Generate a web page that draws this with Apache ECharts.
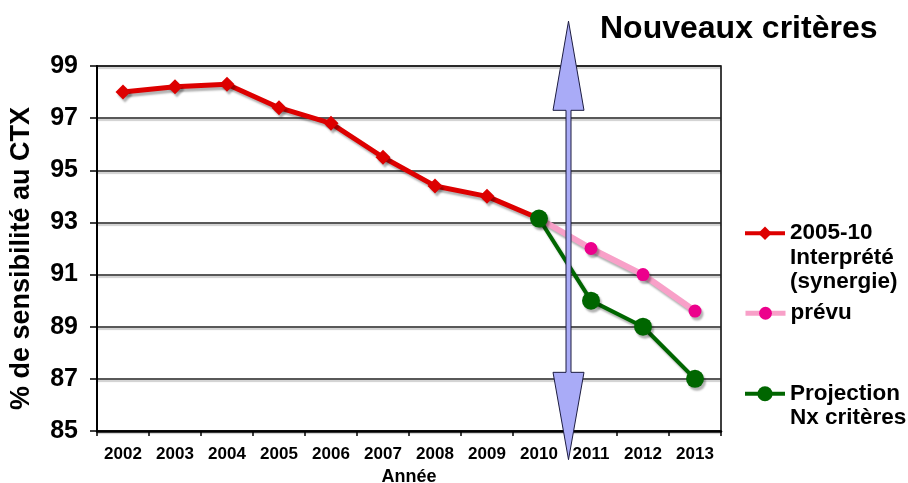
<!DOCTYPE html>
<html>
<head>
<meta charset="utf-8">
<script src="https://cdn.jsdelivr.net/npm/echarts@6/dist/echarts.min.js"></script>
<style>
  html, body { margin: 0; padding: 0; background: #fff; }
  #chart { width: 908px; height: 483px; }
</style>
</head>
<body>
<div id="chart"></div>
<script>
// data
const years = ['2002', '2003', '2004', '2005', '2006', '2007', '2008', '2009', '2010', '2011', '2012', '2013'];
const interprete = [98.0, 98.2, 98.3, 97.4, 96.8, 95.5, 94.4, 94.0, 93.15, null, null, null];
const prevu = [null, null, null, null, null, null, null, null, 93.15, 92.0, 91.0, 89.6];
const projection = [null, null, null, null, null, null, null, null, 93.15, 90.0, 89.0, 87.0];
const yTicks = [85, 87, 89, 91, 93, 95, 97, 99];

const FONT = '"Liberation Sans", Arial, sans-serif';
const names = {
  red: '2005-10',
  pink: 'prévu',
  green: 'Projection'
};
// blank lines in front keep the icon level with the first line of text
const legendText = {
  '2005-10': '\n\n2005-10\nInterprété\n(synergie)',
  'prévu': 'prévu',
  'Projection': '\nProjection\nNx critères'
};

const el = document.getElementById('chart');
const chart = echarts.init(el);

const shadow = {
  shadowColor: 'rgba(0,0,0,0.3)',
  shadowBlur: 2,
  shadowOffsetX: 2,
  shadowOffsetY: 3
};

function legendFor(name, top, lineWidth, size) {
  return {
    data: [name],
    left: 743,
    top: top,
    padding: 0,
    itemWidth: 40,
    itemHeight: size,
    selectedMode: false,
    lineStyle: { width: lineWidth },
    formatter: function (n) { return legendText[n]; },
    textStyle: {
      fontFamily: FONT,
      fontSize: 22.5,
      fontWeight: 'bold',
      color: '#000',
      lineHeight: 24.5
    }
  };
}

const option = {
  animation: false,
  textStyle: { fontFamily: FONT },
  title: {
    text: 'Nouveaux critères',
    left: 595,
    top: 8,
    textStyle: { fontFamily: FONT, fontSize: 32, fontWeight: 'bold', color: '#000' }
  },
  legend: [
    legendFor(names.red, 172, 4, 17),
    legendFor(names.pink, 301, 5, 16),
    legendFor(names.green, 357, 4, 19)
  ],
  grid: {
    left: 97,
    top: 66,
    width: 624,
    height: 365,
    outerBoundsMode: 'none',
    show: true,
    borderColor: '#000',
    borderWidth: 1.5
  },
  xAxis: {
    type: 'category',
    data: years,
    boundaryGap: true,
    name: 'Année',
    nameLocation: 'middle',
    nameGap: 36,
    nameTextStyle: { fontFamily: FONT, fontSize: 18, fontWeight: 'bold', color: '#000' },
    axisLine: { lineStyle: { color: '#000', width: 2.5 } },
    axisTick: { show: true, length: 5, lineStyle: { color: '#000', width: 1.5 } },
    axisLabel: { fontFamily: FONT, fontSize: 17, fontWeight: 'bold', color: '#000', margin: 15 }
  },
  yAxis: {
    type: 'value',
    min: 85,
    max: 99,
    interval: 2,
    name: '% de sensibilité au CTX',
    nameLocation: 'middle',
    nameGap: 62,
    nameTextStyle: {
      fontFamily: FONT, fontSize: 27, fontWeight: 'bold', color: '#000',
      padding: [0, 20, 0, 0]
    },
    axisLine: { show: true, lineStyle: { color: '#000', width: 2 } },
    axisTick: { show: true, length: 7, lineStyle: { color: '#000', width: 1.5 } },
    axisLabel: {
      fontFamily: FONT, fontSize: 25, fontWeight: 'bold', color: '#000', margin: 19,
      formatter: function (v) { return yTicks.indexOf(v) >= 0 ? String(v) : ''; }
    },
    splitLine: {
      lineStyle: {
        color: '#222', width: 1.5,
        shadowColor: 'rgba(0,0,0,0.25)', shadowOffsetY: 2, shadowBlur: 1
      }
    }
  },
  series: [
    {
      name: names.red,
      type: 'line',
      data: interprete,
      symbol: 'diamond',
      symbolSize: 15,
      lineStyle: Object.assign({ color: '#dd0000', width: 5 }, shadow),
      itemStyle: Object.assign({ color: '#dd0000' }, shadow),
      z: 3
    },
    {
      name: names.pink,
      type: 'line',
      data: prevu,
      symbol: 'circle',
      symbolSize: 13,
      lineStyle: Object.assign({ color: '#f8a0c8', width: 6 }, shadow),
      itemStyle: Object.assign({ color: '#ec008c' }, shadow),
      z: 4
    },
    {
      name: names.green,
      type: 'line',
      data: projection,
      symbol: 'circle',
      symbolSize: 18,
      lineStyle: Object.assign({ color: '#006600', width: 4 }, shadow),
      itemStyle: Object.assign({ color: '#006600' }, shadow),
      z: 5
    }
  ]
};

chart.setOption(option);

// double-headed arrow marking the change of criteria, between 2010 and 2011
function drawArrow() {
  const a = chart.convertToPixel({ xAxisIndex: 0 }, '2010');
  const b = chart.convertToPixel({ xAxisIndex: 0 }, '2011');
  const cx = (a + b) / 2 + 3.5;
  const yTip = chart.convertToPixel({ yAxisIndex: 0 }, 100.72);
  const yHeadTop = chart.convertToPixel({ yAxisIndex: 0 }, 97.3);
  const yHeadBot = chart.convertToPixel({ yAxisIndex: 0 }, 87.25);
  const yTipBot = chart.convertToPixel({ yAxisIndex: 0 }, 83.9);
  const hw = 15.5, sw = 2.5;
  chart.setOption({
    graphic: [{
      type: 'polygon',
      z: 100,
      shape: {
        points: [
          [cx, yTip], [cx + hw, yHeadTop], [cx + sw, yHeadTop], [cx + sw, yHeadBot],
          [cx + hw, yHeadBot], [cx, yTipBot], [cx - hw, yHeadBot], [cx - sw, yHeadBot],
          [cx - sw, yHeadTop], [cx - hw, yHeadTop]
        ]
      },
      style: { fill: '#a9abf7', stroke: '#1c1c40', lineWidth: 1 }
    }]
  });
}
drawArrow();
</script>
</body>
</html>
